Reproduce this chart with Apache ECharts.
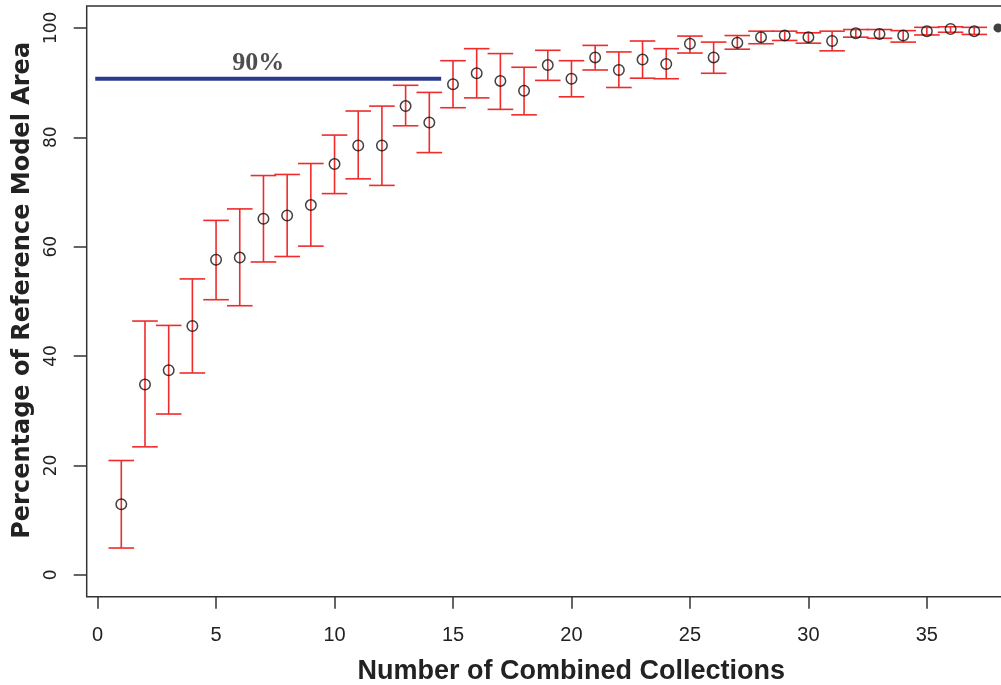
<!DOCTYPE html>
<html>
<head>
<meta charset="utf-8">
<script src="https://cdn.jsdelivr.net/npm/echarts@6/dist/echarts.min.js"></script>
<style>
html,body{margin:0;padding:0;background:#fff;}
#chart{width:1001px;height:685px;}
</style>
</head>
<body>
<div id="chart"></div>
<script>
// ---- data ----
const collections = [1,2,3,4,5,6,7,8,9,10,11,12,13,14,15,16,17,18,19,20,21,22,23,24,25,26,27,28,29,30,31,32,33,34,35,36,37];
const meanPct  = [12.9,34.8,37.4,45.5,57.6,58.0,65.1,65.7,67.6,75.1,78.5,78.5,85.7,82.7,89.7,91.7,90.3,88.5,93.2,90.7,94.6,92.3,94.2,93.4,97.1,94.6,97.3,98.3,98.6,98.3,97.6,99.0,98.9,98.6,99.4,99.8,99.4];
const upperPct = [20.9,46.4,45.6,54.1,64.8,66.9,73.0,73.2,75.2,80.4,84.8,85.7,89.5,88.2,94.0,96.2,95.3,92.8,95.9,94.0,96.8,95.6,97.6,96.2,98.5,97.4,98.6,99.4,99.4,99.1,99.4,99.7,99.7,99.5,100.1,100.2,100.1];
const lowerPct = [4.9,23.4,29.4,36.9,50.3,49.2,57.2,58.2,60.1,69.7,72.4,71.2,82.1,77.2,85.4,87.2,85.1,84.1,90.4,87.4,92.3,89.1,90.8,90.7,95.4,91.7,96.1,97.1,97.7,97.2,95.8,98.3,98.1,97.4,98.7,99.2,98.8];
const finalX = [38];
const finalPct = [100.0];
const thresholdX = [-0.1, 14.5];
const thresholdPct = 90.7;
const thresholdText = '90%';
const thresholdLabelAt = [6.78, 93.6];
const xTicks = [0,5,10,15,20,25,30,35];
const yTicks = [0,20,40,60,80,100];
const xTitle = 'Number of Combined Collections';
const yTitle = 'Percentage of Reference Model Area';

const RED = '#ef2b2b';
const INK = '#222';

const errData = collections.map((c, i) => [c, lowerPct[i], upperPct[i]]);
const ptData = collections.map((c, i) => [c, meanPct[i]]);
const finalData = finalX.map((x, i) => [x, finalPct[i]]);
const threshData = thresholdX.map(x => [x, thresholdPct]);

const chart = echarts.init(document.getElementById('chart'), null, {renderer: 'canvas'});
chart.setOption({
  animation: false,
  backgroundColor: '#fff',
  grid: {
    left: 86.7, top: 6, width: 969.3, height: 590.7,
    outerBoundsMode: 'none', containLabel: false,
    show: true, borderColor: '#333', borderWidth: 1.5, backgroundColor: 'transparent'
  },
  xAxis: {
    type: 'value', min: -0.46, max: 40.45,
    axisLine: {show: false, onZero: false},
    splitLine: {show: false},
    axisTick: {show: true, length: 12, lineStyle: {color: '#333', width: 1.5}, customValues: xTicks},
    axisLabel: {customValues: xTicks, fontFamily: 'Liberation Sans, Arial', fontSize: 20, color: INK, margin: 29},
    name: xTitle, nameLocation: 'middle', nameGap: 61,
    nameTextStyle: {fontFamily: 'Liberation Sans, Arial', fontWeight: 'bold', fontSize: 27, color: INK}
  },
  yAxis: {
    type: 'value', min: -4, max: 104,
    axisLine: {show: false, onZero: false},
    splitLine: {show: false},
    axisTick: {show: true, length: 13, lineStyle: {color: '#333', width: 1.5}, customValues: yTicks},
    axisLabel: {customValues: yTicks, rotate: 90, fontFamily: 'DejaVu Sans', fontSize: 17, color: INK, margin: 27},
    name: yTitle, nameLocation: 'middle', nameGap: 50,
    nameTextStyle: {fontFamily: 'DejaVu Sans', fontWeight: 'bold', fontSize: 24, color: INK, padding: [0,0,0,22]}
  },
  series: [
    {
      type: 'custom',
      data: errData,
      encode: {x: 0, y: [1, 2]},
      renderItem: function (params, api) {
        const x = api.value(0);
        const lo = api.coord([x, api.value(1)]);
        const hi = api.coord([x, api.value(2)]);
        const hw = 12.8;
        const st = {stroke: RED, lineWidth: 1.6};
        return {
          type: 'group',
          children: [
            {type: 'line', shape: {x1: lo[0], y1: lo[1], x2: hi[0], y2: hi[1]}, style: st},
            {type: 'line', shape: {x1: lo[0] - hw, y1: lo[1], x2: lo[0] + hw, y2: lo[1]}, style: st},
            {type: 'line', shape: {x1: hi[0] - hw, y1: hi[1], x2: hi[0] + hw, y2: hi[1]}, style: st}
          ]
        };
      },
      z: 2
    },
    {
      type: 'scatter',
      data: ptData,
      symbol: 'circle',
      symbolSize: 10.5,
      itemStyle: {color: 'rgba(0,0,0,0)', borderColor: '#111', borderWidth: 1.5},
      z: 3
    },
    {
      type: 'scatter',
      data: finalData,
      symbol: 'circle',
      symbolSize: 9,
      itemStyle: {color: '#111'},
      z: 3
    },
    {
      type: 'line',
      data: threshData,
      symbol: 'none',
      lineStyle: {color: '#2e3a8e', width: 4},
      z: 4
    },
    {
      type: 'scatter',
      data: [thresholdLabelAt],
      symbolSize: 0,
      label: {
        show: true, position: 'inside', formatter: thresholdText,
        fontFamily: 'Liberation Serif, Times New Roman, serif', fontWeight: 'bold', fontSize: 26, color: INK
      },
      z: 5
    }
  ]
});
</script>
</body>
</html>
